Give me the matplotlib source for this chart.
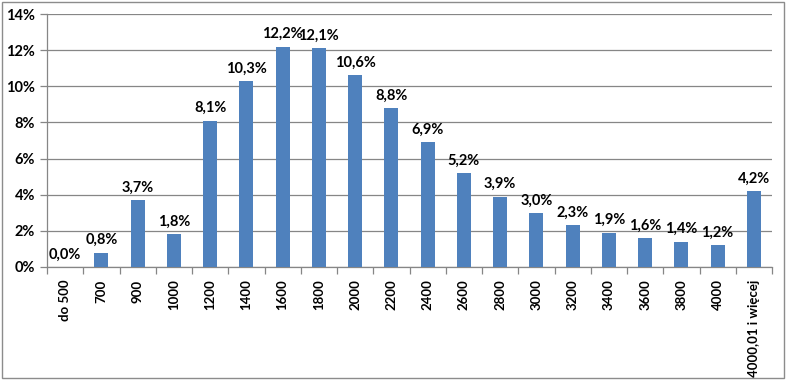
import numpy as np
import matplotlib.pyplot as plt
from matplotlib.patches import Rectangle
from matplotlib.ticker import FuncFormatter, FixedLocator

categories = ['do 500', '700', '900', '1000', '1200', '1400', '1600', '1800', '2000', '2200',
              '2400', '2600', '2800', '3000', '3200', '3400', '3600', '3800', '4000', '4000,01 i więcej']
shares = [0.0, 0.8, 3.7, 1.8, 8.1, 10.3, 12.2, 12.1, 10.6, 8.8,
          6.9, 5.2, 3.9, 3.0, 2.3, 1.9, 1.6, 1.4, 1.2, 4.2]

plt.rcParams['font.family'] = ['Lato', 'DejaVu Sans']
grey = '#868686'

fig = plt.figure(figsize=(7.86, 3.80), dpi=100)
ax = fig.add_axes([47/786, 1 - 267/380, (772 - 47)/786, (267 - 14)/380])

x = np.arange(len(categories))
ax.bar(x, shares, width=0.38, color='#4F81BD', zorder=3)
for xi, v in zip(x, shares):
    ax.text(xi, v + 0.3, f'{v:.1f}%'.replace('.', ','), ha='center', va='bottom',
            fontsize=10.5, fontweight='bold', color='black', zorder=4)

ax.set_xlim(-0.5, len(categories) - 0.5)
ax.set_ylim(0, 14)
ax.set_yticks(np.arange(0, 15, 2))
ax.yaxis.set_major_formatter(FuncFormatter(lambda v, p: f'{v:.0f}%'))
ax.grid(axis='y', color=grey, linewidth=0.9, zorder=0)

ax.set_xticks(x)
ax.set_xticklabels(categories, rotation=90, fontsize=9.5, fontweight='bold')
ax.tick_params(axis='x', which='major', length=0, pad=9)
ax.xaxis.set_minor_locator(FixedLocator(np.arange(-0.5, len(categories), 1)))
ax.tick_params(axis='x', which='minor', length=5, color=grey, width=0.9)
ax.tick_params(axis='y', length=5, color=grey, width=0.9, labelsize=10.5)
for lab in ax.get_yticklabels():
    lab.set_fontweight('bold')

for s in ['top', 'right']:
    ax.spines[s].set_visible(False)
for s in ['left', 'bottom']:
    ax.spines[s].set_color(grey)
    ax.spines[s].set_linewidth(0.9)

fig.patches.append(Rectangle((0.002, 0.004), 0.996, 0.992, transform=fig.transFigure,
                             fill=False, edgecolor='#8c8c8c', linewidth=1))

fig.savefig('out.png', dpi=100)
